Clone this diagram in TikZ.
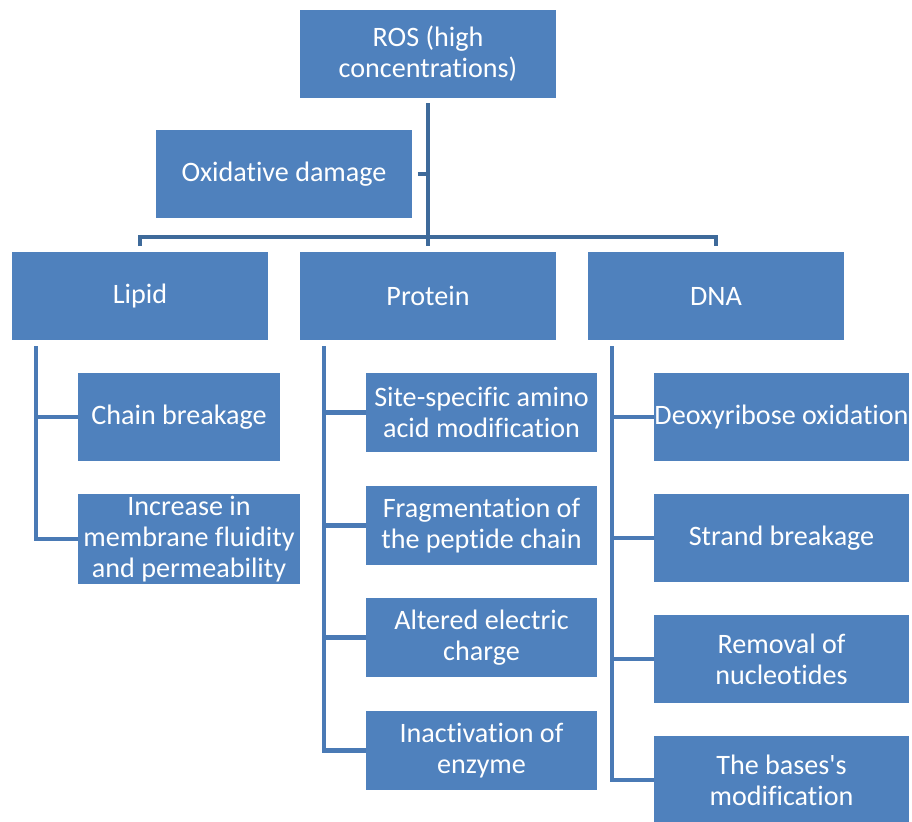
\documentclass[tikz,border=0pt]{standalone}
\usepackage{fontspec}
\newfontfamily\boxfont{Carlito}[Ligatures=NoCommon]
\usetikzlibrary{positioning}
\definecolor{boxblue}{HTML}{4F81BD}
\definecolor{topline}{HTML}{3E6A9A}
\definecolor{subline}{HTML}{4A7AB5}

\begin{document}
\begin{tikzpicture}[x=0.025cm, y=-0.025cm,
          every node/.style={align=center},
          box/.style={rectangle, fill=boxblue, text=white, inner sep=0pt,
            font=\boxfont\fontsize{20}{22}\selectfont},
          big/.style={box, minimum width=6.4cm, minimum height=2.2cm},
          link/.style={draw=topline, line width=3.4pt},
          sublink/.style={draw=subline, line width=3.4pt}
        ]
          \useasboundingbox (0,0) rectangle (912,821);

          % Top of the tree
          \node[big] (ros) at (428,54) {ROS (high\\concentrations)};
          \node[big] (damage) at (284,174) {Oxidative damage};

          % Three targets
          \node[big] (lipid) at (140,296) {Lipid};
          \node[big] (protein) at (428,296) {Protein};
          \node[big] (dna) at (716,296) {DNA};

          % Lipid
          \node[box, minimum width=5.05cm, minimum height=2.2cm] (chain) at (179,417) {Chain breakage};
          \node[box, minimum width=5.55cm, minimum height=2.25cm] (fluid) at (189,539) {Increase in\\membrane fluidity\\and permeability};

          % Protein
          \node[box, minimum width=5.775cm, minimum height=1.975cm] (site) at (481.5,412.5) {Site-specific amino\\acid modification};
          \node[box, minimum width=5.775cm, minimum height=1.975cm] (frag) at (481.5,525.5) {Fragmentation of\\the peptide chain};
          \node[box, minimum width=5.775cm, minimum height=1.975cm] (charge) at (481.5,637.5) {Altered electric\\charge};
          \node[box, minimum width=5.775cm, minimum height=1.975cm] (enzyme) at (481.5,750.5) {Inactivation of\\enzyme};

          % DNA
          \node[box, minimum width=6.375cm, minimum height=2.2cm] (deoxy) at (781.5,417) {Deoxyribose oxidation};
          \node[box, minimum width=6.375cm, minimum height=2.2cm] (strand) at (781.5,538) {Strand breakage};
          \node[box, minimum width=6.375cm, minimum height=2.2cm] (removal) at (781.5,659) {Removal of\\nucleotides};
          \node[box, minimum width=6.375cm, minimum height=2.2cm] (bases) at (781.5,780) {The bases's\\modification};

          % Trunk and bar
          \coordinate (bar) at (0,237);
          \draw[link] ([yshift=-3.5pt]ros.south) -- ([yshift=4pt]protein.north);
          \draw[link] ([xshift=4pt]damage.east) -- (ros.south |- damage.east);
          \draw[link] ([yshift=4pt]lipid.north) -- (lipid.north |- bar) -- (dna.north |- bar) -- ([yshift=4pt]dna.north);

          % Spines
          \coordinate (lspine) at (36,346);
          \coordinate (pspine) at (324,346);
          \coordinate (dspine) at (612,346);
          \draw[sublink] (lspine) |- (fluid.west);
          \draw[sublink] (lspine |- chain.west) -- (chain.west);
          \draw[sublink] (pspine) |- (enzyme.west);
          \foreach \n in {site,frag,charge}
            \draw[sublink] (pspine |- \n.west) -- (\n.west);
          \draw[sublink] (dspine) |- (bases.west);
          \foreach \n in {deoxy,strand,removal}
            \draw[sublink] (dspine |- \n.west) -- (\n.west);
        \end{tikzpicture}
\end{document}
